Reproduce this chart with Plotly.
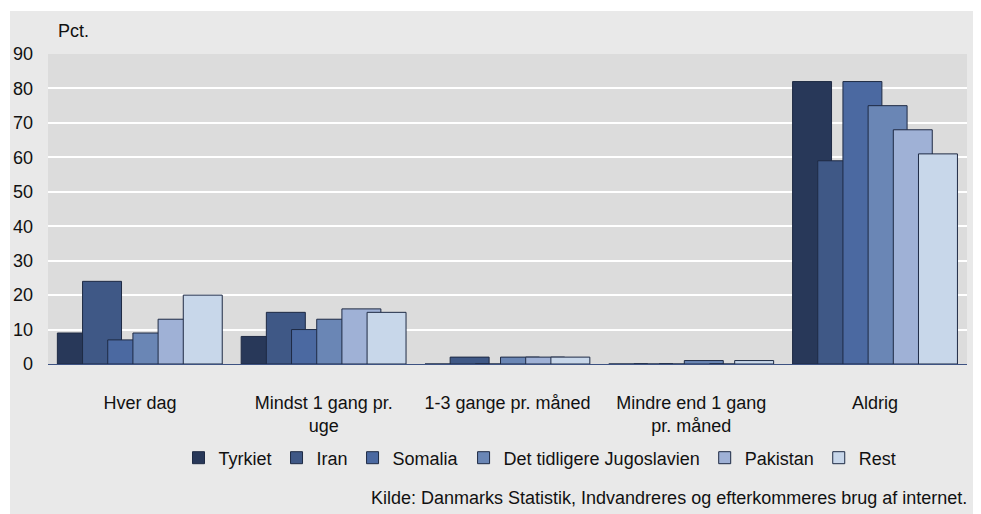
import plotly.graph_objects as go

categories = ["Hver dag", "Mindst 1 gang pr.<br>uge", "1-3 gange pr. måned",
              "Mindre end 1 gang<br>pr. måned", "Aldrig"]
series_names = ["Tyrkiet", "Iran", "Somalia", "Det tidligere Jugoslavien", "Pakistan", "Rest"]
tyrkiet = [9, 8, 0, 0, 82]
iran = [24, 15, 2, 0, 59]
somalia = [7, 10, 0, 0, 82]
jugoslavien = [9, 13, 2, 1, 75]
pakistan = [13, 16, 2, 0, 68]
rest = [20, 15, 2, 1, 61]
series_values = [tyrkiet, iran, somalia, jugoslavien, pakistan, rest]
y_ticks = [0, 10, 20, 30, 40, 50, 60, 70, 80, 90]

colors = ["#283859", "#3f5886", "#4b69a1", "#6a86b5", "#9fb1d6", "#c8d7ea"]
FONT = "Liberation Sans, Arial, sans-serif"

fig = go.Figure()
bar_w = 0.212
step = 0.137
start = -0.449
for i, (name, vals) in enumerate(zip(series_names, series_values)):
    fig.add_trace(go.Bar(
        name=name, x=categories, y=vals,
        marker=dict(color=colors[i], line=dict(color="#1e2a44", width=1)),
        width=bar_w, offset=start + i * step,
    ))

OFF = 8  # page body margin
W, H = 981 - OFF, 514 - OFF
L, T = 48 - OFF, 54 - OFF
R = W - (967 - OFF)
B = H - (364 - OFF)
pw, ph = W - L - R, H - T - B


def px_x(x):
    return (x - OFF - L) / pw


def px_y(y):
    return (H - (y - OFF) - B) / ph


fig.update_layout(
    width=W, height=H,
    barmode="overlay",
    margin=dict(l=L, r=R, t=T, b=B, pad=0, autoexpand=False),
    paper_bgcolor="#e9e9e9",
    plot_bgcolor="#dcdcdc",
    font=dict(family=FONT, size=18, color="#111111"),
    showlegend=True,
    legend=dict(orientation="h", x=px_x(540), xanchor="center", y=px_y(458), yanchor="middle",
                font=dict(size=18), traceorder="normal", itemwidth=30,
                bgcolor="rgba(0,0,0,0)"),
    xaxis=dict(showgrid=False, showline=True, linecolor="#3d5282", linewidth=1,
               ticks="", tickfont=dict(size=18), ticklabelstandoff=22,
               range=[-0.5, 4.5], automargin=False),
    yaxis=dict(range=[0, 90], tickvals=y_ticks, showgrid=True, gridcolor="#ffffff",
               gridwidth=2, zeroline=False, ticks="", tickfont=dict(size=18),
               ticklabelstandoff=14, automargin=False),
    shapes=[
        dict(type="rect", xref="paper", yref="paper",
             x0=px_x(0) - 0.01, x1=px_x(10), y0=px_y(520), y1=px_y(0) + 0.05,
             fillcolor="#ffffff", line=dict(width=0), layer="above"),
        dict(type="rect", xref="paper", yref="paper",
             x0=px_x(0) - 0.01, x1=px_x(990), y0=px_y(11), y1=px_y(0) + 0.05,
             fillcolor="#ffffff", line=dict(width=0), layer="above"),
    ],
    annotations=[
        dict(text="Pct.", xref="paper", yref="paper", x=px_x(56), y=px_y(31),
             xanchor="left", yanchor="middle", showarrow=False, font=dict(size=18)),
        dict(text="Kilde: Danmarks Statistik, Indvandreres og efterkommeres brug af internet.",
             xref="paper", yref="paper", x=px_x(969), y=px_y(498),
             xanchor="right", yanchor="middle", showarrow=False, font=dict(size=18)),
    ],
)

fig.write_html("out.html")
